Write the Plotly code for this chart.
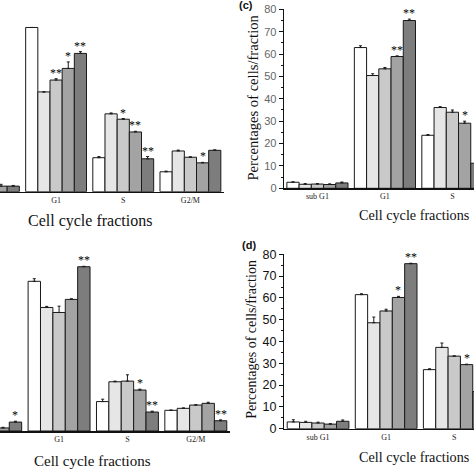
import plotly.graph_objects as go

categories = ["sub G1", "G1", "S", "G2/M"]
series_colors = ["#ffffff", "#e6e6e6", "#c9c9c9", "#a3a3a3", "#7d7d7d"]

# values[panel][series] -> per category
a_vals = [[2.0, 73.4, 15.2, 8.9],
          [2.2, 44.6, 34.8, 18.2],
          [2.0, 49.9, 32.4, 15.4],
          [2.5, 55.1, 26.7, 12.9],
          [2.5, 61.8, 14.7, 18.5]]
a_errs = [[0.4, 0.0, 0.5, 0.3],
          [0.4, 0.0, 0.4, 0.4],
          [0.4, 0.6, 0.3, 0.2],
          [0.8, 2.9, 0.3, 0.2],
          [0.3, 0.8, 1.0, 0.2]]
a_stars = [["", "", "", ""],
           ["", "", "", ""],
           ["", "**", "*", ""],
           ["", "*", "**", "*"],
           ["", "**", "**", ""]]

c_vals = [[2.7, 62.9, 23.7, 13.4],
          [1.8, 50.4, 36.1, 13.6],
          [1.9, 53.4, 34.0, 12.2],
          [1.7, 58.9, 29.1, 12.0],
          [2.4, 75.0, 11.2, 11.4]]
c_errs = [[0.2, 0.8, 0.3, 0.4],
          [0.3, 0.8, 0.4, 0.4],
          [0.2, 0.6, 1.0, 0.4],
          [0.3, 0.3, 0.9, 0.4],
          [0.4, 0.6, 0.5, 0.4]]
c_stars = [["", "", "", ""],
           ["", "", "", ""],
           ["", "", "", ""],
           ["", "**", "*", ""],
           ["", "**", "", ""]]

b_vals = [[2.0, 68.7, 13.5, 9.5],
          [2.0, 56.7, 22.6, 10.4],
          [2.0, 54.4, 22.9, 11.9],
          [1.4, 60.4, 18.8, 12.7],
          [4.1, 75.4, 8.7, 4.7]]
b_errs = [[0.3, 1.2, 1.1, 0.1],
          [0.3, 0.5, 0.3, 0.2],
          [0.3, 2.9, 2.9, 0.2],
          [0.3, 0.3, 0.4, 0.5],
          [0.4, 0.2, 0.4, 0.4]]
b_stars = [["", "", "", ""],
           ["", "", "", ""],
           ["", "", "", ""],
           ["", "", "*", ""],
           ["*", "**", "**", "**"]]

d_vals = [[3.1, 61.5, 27.1, 8.5],
          [2.9, 48.6, 37.3, 11.5],
          [2.6, 54.0, 33.3, 10.2],
          [2.1, 60.2, 29.4, 8.1],
          [3.4, 75.7, 17.0, 9.0]]
d_errs = [[1.0, 0.4, 0.4, 0.4],
          [0.5, 2.6, 2.0, 0.4],
          [0.4, 0.8, 0.1, 0.4],
          [0.2, 0.5, 0.2, 0.4],
          [0.6, 0.2, 0.4, 0.4]]
d_stars = [["", "", "", ""],
           ["", "", "", ""],
           ["", "", "", ""],
           ["", "*", "*", ""],
           ["", "**", "", ""]]

W = H = 474
BARGAP = 0.094

panels = [
    dict(v=a_vals, e=a_errs, s=a_stars, ax="", xd=(0, 224), yd=(12.7, 191.7), xr=[0.165, 3.5], yaxis=False),
    dict(v=c_vals, e=c_errs, s=c_stars, ax="2", xd=(283.7, 474), yd=(9.3, 188.3), xr=[-0.5, 2.32], yaxis=True),
    dict(v=b_vals, e=b_errs, s=b_stars, ax="3", xd=(0, 230), yd=(256.7, 431), xr=[0.136, 3.5], yaxis=False),
    dict(v=d_vals, e=d_errs, s=d_stars, ax="4", xd=(284, 474), yd=(254.3, 428.7), xr=[-0.5, 2.29], yaxis=True),
]

fig = go.Figure()
annotations = []
layout = {}
serif = "Liberation Serif, Times New Roman, serif"
sans = "Liberation Sans, Arial, sans-serif"

for pi, p in enumerate(panels):
    xa = "x" + p["ax"]
    ya = "y" + p["ax"]
    for j in range(5):
        fig.add_trace(go.Bar(
            x=categories, y=p["v"][j], xaxis=xa, yaxis=ya,
            marker=dict(color=series_colors[j], line=dict(color="#1a1a1a", width=1)),
            error_y=dict(type="data", symmetric=False, array=p["e"][j],
                         arrayminus=[0] * 4, color="#1a1a1a", thickness=1, width=1.5),
            showlegend=False, hoverinfo="skip",
        ))
        for i in range(4):
            st = p["s"][j][i]
            if st:
                xpos = i + (j - 2) * (1 - BARGAP) / 5
                annotations.append(dict(
                    x=xpos, y=p["v"][j][i] + p["e"][j][i], xref=xa, yref=ya,
                    text=st, showarrow=False, yanchor="bottom", yshift=-3,
                    font=dict(family=serif, size=12, color="#000")))
    xkey = "xaxis" + p["ax"]
    ykey = "yaxis" + p["ax"]
    tickfont = dict(family=serif, size=8, color="#222")
    layout[xkey] = dict(
        domain=[p["xd"][0] / W, p["xd"][1] / W], anchor=ya, range=p["xr"],
        type="category", categoryorder="array", categoryarray=categories,
        showline=True, linecolor="#111", linewidth=1.5, ticks="", showgrid=False,
        tickfont=tickfont, zeroline=False, fixedrange=True, automargin=False)
    ydict = dict(
        domain=[1 - p["yd"][1] / H, 1 - p["yd"][0] / H], anchor=xa, range=[0, 80],
        showgrid=False, zeroline=False, fixedrange=True, automargin=False)
    if p["yaxis"]:
        top_panel = pi == 1
        ydict.update(
            showline=True, linecolor="#111", linewidth=1,
            ticks="outside", ticklen=4, tickcolor="#111", dtick=10, tick0=0,
            minor=dict(ticks="outside", ticklen=2, dtick=5, tickcolor="#111"),
            tickfont=dict(family=sans, size=11 if top_panel else 12.5,
                          color="#666" if top_panel else "#111"))
    else:
        ydict.update(visible=False)
    layout[ykey] = ydict

titles = [
    ("Cell cycle fractions", 90, 221, 16, "center"),
    ("Cell cycle fractions", 472, 215, 14.2, "right"),
    ("Cell cycle fractions", 32, 461, 15, "left"),
    ("Cell cycle fractions", 472, 457, 14.2, "right"),
]
for t, x, y, sz, anc in titles:
    annotations.append(dict(text=t, x=x / W, y=1 - y / H, xref="paper", yref="paper",
                            xanchor=anc, yanchor="middle", showarrow=False,
                            font=dict(family=serif, size=sz, color="#111")))
for y, sz in [(97.5, 14.6), (338.7, 14)]:
    annotations.append(dict(text="Percentages of cells/fraction", x=252 / W, y=1 - y / H,
                            xref="paper", yref="paper", textangle=-90,
                            xanchor="center", yanchor="middle", showarrow=False,
                            font=dict(family=serif, size=sz, color="#111")))
for t, x, y in [("(c)", 237, 5), ("(d)", 240, 245)]:
    annotations.append(dict(text="<b>" + t + "</b>", x=x / W, y=1 - y / H,
                            xref="paper", yref="paper", xanchor="left", yanchor="middle",
                            showarrow=False, font=dict(family=sans, size=11, color="#111")))

fig.update_layout(
    width=W, height=H, margin=dict(l=0, r=0, t=0, b=0, autoexpand=False),
    paper_bgcolor="white", plot_bgcolor="white",
    barmode="group", bargap=BARGAP, bargroupgap=0,
    annotations=annotations, showlegend=False, **layout)

fig.write_html("out.html", config={"displayModeBar": False, "staticPlot": True},
               post_script="document.body.style.margin='0';")
